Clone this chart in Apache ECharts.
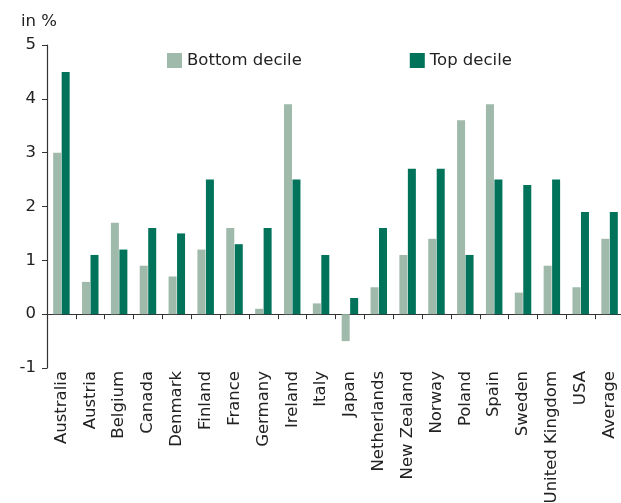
<!DOCTYPE html>
<html>
<head>
<meta charset="utf-8">
<script src="https://cdn.jsdelivr.net/npm/echarts@6/dist/echarts.min.js"></script>
<style>
html,body{margin:0;padding:0;background:#fff;}
#c{width:621px;height:503px;}
</style>
</head>
<body>
<div id="c"></div>
<script>
var categories = ["Australia","Austria","Belgium","Canada","Denmark","Finland","France","Germany","Ireland","Italy","Japan","Netherlands","New Zealand","Norway","Poland","Spain","Sweden","United Kingdom","USA","Average"];
var bottomDecile = [3.0,0.6,1.7,0.9,0.7,1.2,1.6,0.1,3.9,0.2,-0.5,0.5,1.1,1.4,3.6,3.9,0.4,0.9,0.5,1.4];
var topDecile = [4.5,1.1,1.2,1.6,1.5,2.5,1.3,1.6,2.5,1.1,0.3,1.6,2.7,2.7,1.1,2.5,2.4,2.5,1.9,1.9];
var yTicks = {min:-1, max:5, interval:1};

var FONT = 'DejaVu Sans';
var chart = echarts.init(document.getElementById('c'), null, {renderer:'canvas'});
chart.setOption({
  animation:false,
  backgroundColor:'#fff',
  textStyle:{fontFamily:FONT},
  title:{text:'in %', left:16, top:8, textStyle:{fontFamily:FONT, fontSize:16.5, fontWeight:'normal', color:'#222'}},
  legend:{
    left:162, top:47, itemWidth:15, itemHeight:15, itemGap:108, itemTextGap:8,
    icon:'rect',
    textStyle:{fontFamily:FONT, fontSize:16.5, color:'#222'},
    data:['Bottom decile','Top decile']
  },
  grid:{left:47, right:-3, top:45, bottom:135, containLabel:false, outerBoundsMode:'none'},
  xAxis:{
    type:'category', data:categories,
    axisLine:{onZero:true, lineStyle:{color:'#333', width:1.2}},
    axisTick:{show:true, length:5, lineStyle:{color:'#333'}},
    axisLabel:{rotate:90, margin:3, interval:0, fontFamily:FONT, fontSize:16.5, color:'#222'},
    splitLine:{show:false}
  },
  yAxis:{
    type:'value', min:yTicks.min, max:yTicks.max, interval:yTicks.interval,
    axisLine:{show:true, onZero:false, lineStyle:{color:'#333', width:1.2}},
    axisTick:{show:true, length:5, lineStyle:{color:'#333'}},
    axisLabel:{margin:11, fontFamily:FONT, fontSize:16.5, color:'#222'},
    splitLine:{show:false}
  },
  series:[
    {name:'Bottom decile', type:'bar', data:bottomDecile, barWidth:8, barGap:'6%', itemStyle:{color:'#9fb9ab'}},
    {name:'Top decile', type:'bar', data:topDecile, barWidth:8, barGap:'6%', itemStyle:{color:'#00735a'}}
  ]
});
</script>
</body>
</html>
